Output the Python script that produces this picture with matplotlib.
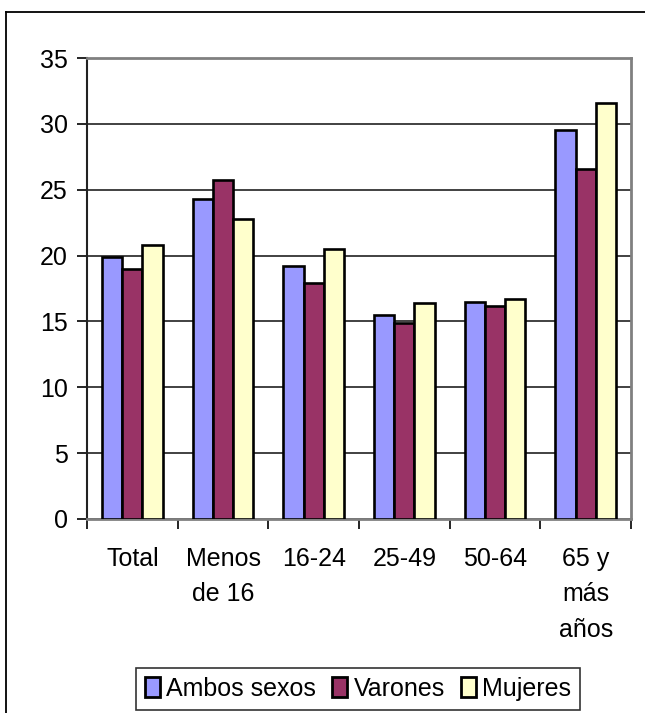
import matplotlib.pyplot as plt
import numpy as np
from matplotlib.lines import Line2D

# datos
categorias = ["Total", "Menos\nde 16", "16-24", "25-49", "50-64", "65 y\nmás\naños"]
ambos = [19.9, 24.3, 19.2, 15.5, 16.5, 29.5]
varones = [19.0, 25.7, 17.9, 14.9, 16.2, 26.6]
mujeres = [20.8, 22.8, 20.5, 16.4, 16.7, 31.6]
series = ["Ambos sexos", "Varones", "Mujeres"]
colores = ["#9999FF", "#993366", "#FFFFCC"]

plt.rcParams["font.family"] = ["Liberation Sans", "DejaVu Sans"]
fs = 18

fig = plt.figure(figsize=(6.45, 7.13), dpi=100)
ax = fig.add_axes([87/645, 1 - 519/713, (631 - 87)/645, (519 - 58)/713])

x = np.arange(len(categorias))
w = 1 / 4.5
for i, (vals, nombre, c) in enumerate(zip([ambos, varones, mujeres], series, colores)):
    ax.bar(x + (i - 1) * w, vals, w, color=c, edgecolor="black", linewidth=1.9,
           label=nombre, zorder=3)

ax.set_xlim(-0.5, len(categorias) - 0.5)
ax.set_ylim(0, 35)
ax.set_yticks(range(0, 36, 5))
ax.yaxis.grid(True, color="#333333", linewidth=1.3, zorder=0)

ax.set_xticks(x)
ax.set_xticklabels(categorias, fontsize=fs, linespacing=1.6, va="top")
ax.set_xticks(np.arange(-0.5, len(categorias)), minor=True)
ax.tick_params(axis="x", which="major", length=0, pad=20)
ax.tick_params(axis="x", which="minor", length=7, width=1.2, direction="out")
ax.tick_params(axis="y", labelsize=fs, length=7, width=1.2, direction="out", pad=7)

for s in ["top", "right"]:
    ax.spines[s].set_color("#808080")
    ax.spines[s].set_linewidth(2)
ax.spines["left"].set_color("#222222")
ax.spines["left"].set_linewidth(1.5)
ax.spines["bottom"].set_color("#808080")
ax.spines["bottom"].set_linewidth(2)

leg = fig.legend(loc="center", bbox_to_anchor=(358/645, 1 - 689/713), ncol=3,
                 fontsize=fs, frameon=True, fancybox=False, edgecolor="black",
                 handlelength=0.6, handleheight=0.85, handletextpad=0.25,
                 columnspacing=0.65, borderpad=0.35, borderaxespad=0)
leg.get_frame().set_linewidth(1.2)
for h in leg.legend_handles:
    h.set_linewidth(2)

# borde exterior
fig.add_artist(Line2D([6/645, 6/645], [0, 1 - 12/713], color="black", linewidth=1.3,
                      transform=fig.transFigure))
fig.add_artist(Line2D([6/645, 1], [1 - 12/713, 1 - 12/713], color="black", linewidth=1.3,
                      transform=fig.transFigure))

fig.savefig("out.png", dpi=100)
